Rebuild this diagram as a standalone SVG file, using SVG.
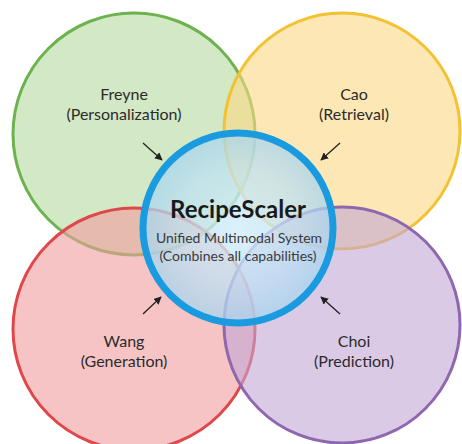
<svg xmlns="http://www.w3.org/2000/svg" width="462" height="444" viewBox="0 0 462 444">
  <defs>
    <style>
      .set { stroke-width: 3; }
      .label { font-family: Lato, "Open Sans", "Liberation Sans", sans-serif; font-size: 16px; fill: #2b2b2b; text-anchor: middle; }
      .title { font-family: Lato, "Open Sans", "Liberation Sans", sans-serif; font-size: 24px; font-weight: 700; fill: #1a1a1a; text-anchor: middle; }
      .sub { font-family: Lato, "Open Sans", "Liberation Sans", sans-serif; font-size: 14px; fill: #3a3a3a; text-anchor: middle; }
      .arrow { stroke: #222; stroke-width: 1.3; fill: none; marker-end: url(#head); }
    </style>
    <marker id="head" viewBox="0 0 10 10" refX="9" refY="5" markerWidth="6" markerHeight="6" orient="auto">
      <path d="M0,0 L10,5 L0,10 z" fill="#222"/>
    </marker>
    <radialGradient id="coreFill" cx="0.5" cy="0.5" r="0.5">
      <stop offset="0" stop-color="#d4eefa" stop-opacity="0.85"/>
      <stop offset="0.6" stop-color="#bfe2f4" stop-opacity="0.72"/>
      <stop offset="1" stop-color="#a6d4ee" stop-opacity="0.75"/>
    </radialGradient>
  </defs>

  <rect width="462" height="444" fill="#ffffff"/>

  <!-- four capability sets -->
  <g id="freyne">
    <circle class="set" cx="134" cy="134" r="121" fill="#b5d89c" fill-opacity="0.6" stroke="#6cb350"/>
    <text class="label" x="124" y="100">Freyne</text>
    <text class="label" x="124" y="120">(Personalization)</text>
  </g>
  <g id="cao">
    <circle class="set" cx="342" cy="131" r="118" fill="#fbd983" fill-opacity="0.6" stroke="#f3c232"/>
    <text class="label" x="354" y="100">Cao</text>
    <text class="label" x="354" y="120">(Retrieval)</text>
  </g>
  <g id="wang">
    <circle class="set" cx="134" cy="329" r="121" fill="#f09c9c" fill-opacity="0.6" stroke="#e0474a"/>
    <text class="label" x="124" y="347">Wang</text>
    <text class="label" x="124" y="367">(Generation)</text>
  </g>
  <g id="choi">
    <circle class="set" cx="342" cy="325" r="118" fill="#c3a7d6" fill-opacity="0.6" stroke="#8f67b0"/>
    <text class="label" x="354" y="347">Choi</text>
    <text class="label" x="354" y="367">(Prediction)</text>
  </g>

  <!-- unified system in the middle -->
  <g id="recipescaler">
    <circle cx="238" cy="228" r="95" fill="url(#coreFill)" stroke="#1a9be0" stroke-width="7"/>
    <text class="title" x="238" y="218">RecipeScaler</text>
    <text class="sub" x="239" y="243">Unified Multimodal System</text>
    <text class="sub" x="238" y="261">(Combines all capabilities)</text>
  </g>

  <!-- contributions flowing into the core -->
  <g id="connectors">
    <line class="arrow" x1="143" y1="143" x2="162" y2="160"/>
    <line class="arrow" x1="340" y1="143" x2="321" y2="160"/>
    <line class="arrow" x1="143" y1="314" x2="161" y2="297"/>
    <line class="arrow" x1="340" y1="314" x2="321" y2="297"/>
  </g>
</svg>
